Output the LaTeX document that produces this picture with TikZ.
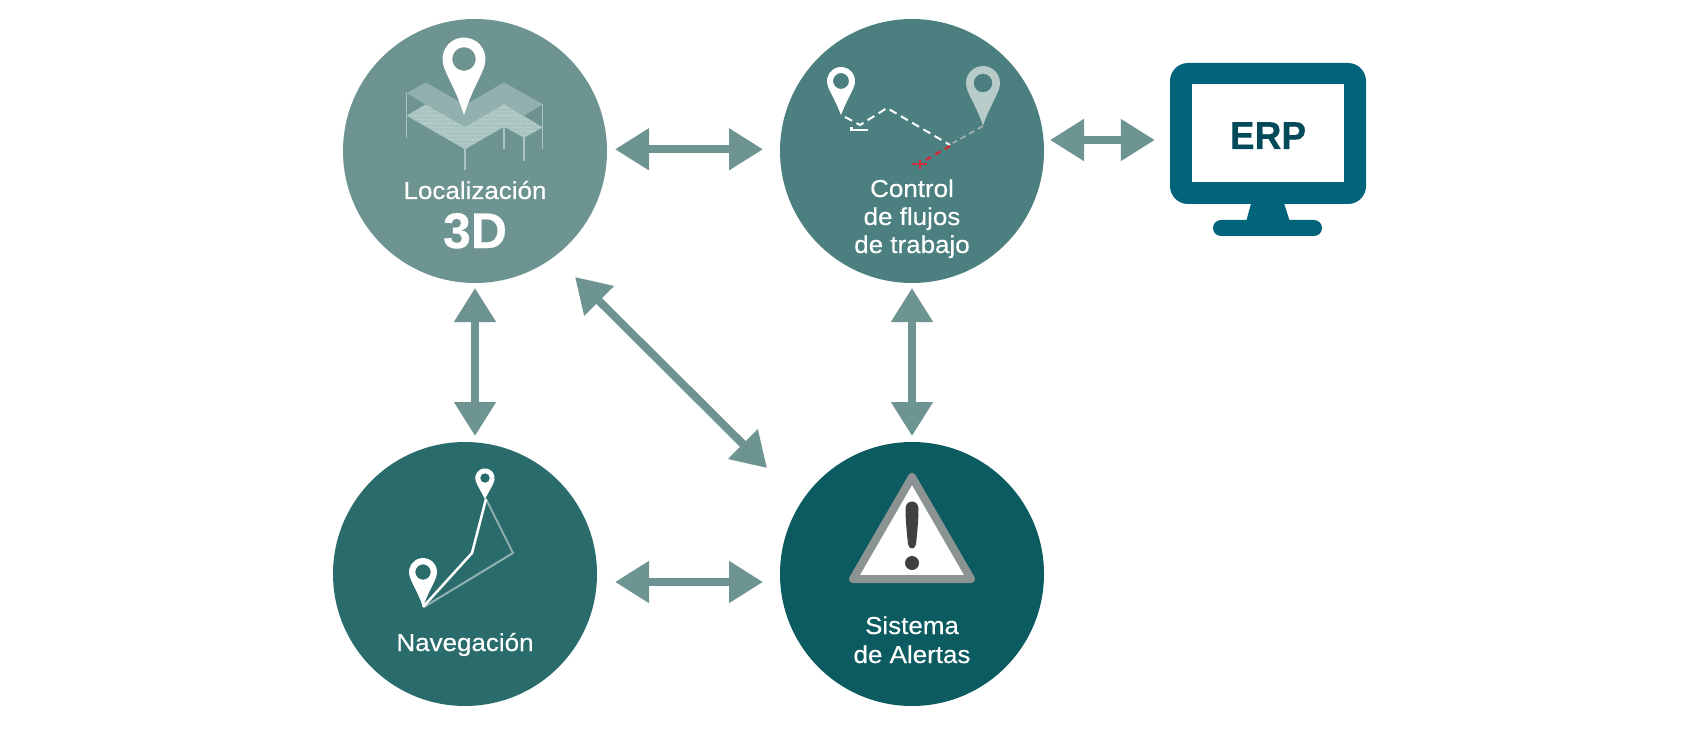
\documentclass[tikz,border=0pt]{standalone}
\usepackage{fontspec}
\setmainfont[FakeStretch=1.06,FakeBold=0.3]{Liberation Sans}
\newfontfamily\erpfont[FakeStretch=0.95,FakeBold=0.3]{Liberation Sans Bold}
\newfontfamily\bigfont[FakeBold=0.5]{Liberation Sans Bold}
\usetikzlibrary{arrows.meta,calc}
\definecolor{cloc}{HTML}{6E9492}
\definecolor{cctrl}{HTML}{4C8080}
\definecolor{cnav}{HTML}{2A6C6C}
\definecolor{calert}{HTML}{0B5B60}
\definecolor{cmon}{HTML}{02647A}
\definecolor{cerp}{HTML}{024A5A}
\definecolor{cpale}{HTML}{B7CCC9}
\definecolor{cplate}{HTML}{92B1AE}
\definecolor{clower}{HTML}{AAC4C1}
\definecolor{cred}{HTML}{C8303C}
\definecolor{ctri}{HTML}{8C9393}
\definecolor{cmark}{HTML}{404040}
\tikzset{
  disc/.style={circle,minimum size=264pt,inner sep=0pt,fill=#1},
  bi/.style={cloc,line width=8pt,{Triangle[length=34pt,width=40pt]}-{Triangle[length=34pt,width=40pt]}},
  lbl/.style={text=white,anchor=base,inner sep=0pt,font=\fontsize{24.5}{29}\selectfont},
  dash1/.style={line width=2pt,dash pattern=on 8pt off 5pt}
}
\newcommand{\pinmark}[6]{%
  \begin{scope}[shift={(#1,#2)},scale=#3]
    \fill[#6,even odd rule] (0,#4) .. controls (-.42,1.3) and (-.88,.7) .. (-.98,.2) arc[start angle=168.5,end angle=371.5,radius=1] .. controls (.88,.7) and (.42,1.3) .. (0,#4) -- cycle (0,0) circle[radius=#5];
  \end{scope}}
\begin{document}
\begin{tikzpicture}[x=1pt,y=-1pt]
\useasboundingbox (0,0) rectangle (1700,746);
\fill[white] (0,0) rectangle (1700,746);
% discs
\node[disc=cloc] (loc) at (475,151) {};
\node[disc=cctrl] (ctrl) at (912,151) {};
\node[disc=cnav] (nav) at (465,574) {};
\node[disc=calert] (alert) at (912,574) {};
% monitor
\fill[cmon] (1252,200) -- (1283,200) -- (1290,222) -- (1246,222) -- cycle;
\fill[cmon,rounded corners=8pt] (1213,220) rectangle (1322,236);
\node[fill=cmon,rounded corners=18pt,minimum width=196pt,minimum height=141pt,inner sep=0pt] (erp) at (1268,133.5) {};
\fill[white] (1192,84) rectangle (1344,182);
\node[anchor=base,inner sep=0pt,text=cerp,font=\fontsize{39}{44}\selectfont\erpfont] (erptxt) at (1268,149) {ERP};
% connectors
\draw[bi] ($(loc)+(140,-1.7)$) -- ($(ctrl)+(-149,-1.7)$);
\draw[bi] ($(ctrl)+(138,-11)$) -- ($(erp.west)+(-15,6.5)$);
\draw[bi] ($(loc)+(0,137)$) -- ($(nav)+(10,-138)$);
\draw[bi] ($(ctrl)+(0,137)$) -- ($(alert)+(0,-138)$);
\draw[bi] ($(nav)+(150,8)$) -- ($(alert)+(-149,8)$);
\draw[bi] ($(loc)+(100,126)$) -- ($(alert)+(-145,-106)$);
% building icon
\begin{scope}[shift={(400,70)},scale=1/3]
  \fill[clower] (20,137) -- (77,103) -- (195,170) -- (312,102) -- (428,172) -- (372,203) -- (312,170) -- (195,238) -- cycle;
  \begin{scope}
    \clip (20,137) -- (77,103) -- (195,170) -- (312,102) -- (428,172) -- (372,203) -- (312,170) -- (195,238) -- cycle;
    \foreach \i in {0,...,50} \foreach \j in {0,...,12}
      \fill[white,opacity=.55] ({15+\i*9+mod(\j,2)*4.5},{100+\j*12}) circle[radius=1.3];
  \end{scope}
  \fill[cplate] (20,70) -- (77,37) -- (195,105) -- (312,37) -- (428,103) -- (372,137) -- (312,102) -- (195,170) -- (77,103) -- cycle;
  \draw[clower,line width=1.4pt] (20,70) -- (20,205) (195,170) -- (195,300) (312,102) -- (312,238) (372,137) -- (372,272) (428,103) -- (428,238);
\end{scope}
\pinmark{464}{59}{21.5}{2.6}{.55}{white}
% control icon
\pinmark{841}{81}{14}{2.43}{.57}{white}
\pinmark{983}{83}{17}{2.5}{.55}{cpale}
\draw[white,dash1] (845,117) -- (860,125) -- (887,108) -- (950,145);
\draw[white,line width=2pt] (851,130) -- (868,130);
\draw[white,line width=3pt] (851,127) -- (851,131);
\draw[ctri!70!white,line width=1.5pt,dash pattern=on 6pt off 4pt] (983,126) -- (953,143);
\draw[cred,line width=2.5pt,dash pattern=on 6pt off 5pt] (950,146) -- (924,161);
\draw[cred,line width=2.5pt] (912,164) -- (927,164) (920,160) -- (920,169);
% nav icon
\draw[cplate,line width=2pt,line join=miter] (424,607) -- (513,553) -- (486,499);
\draw[white,line width=2.5pt] (423,607) -- (472,553) -- (486,499);
\pinmark{485}{478}{9.7}{2.2}{.5}{white}
\pinmark{423}{572}{14}{2.5}{.55}{white}
% alert icon
\draw[ctri,fill=white,line width=8pt,line join=round] (912,477) -- (853,579) -- (971,579) -- cycle;
\fill[cmark] (905.5,509) .. controls (905.5,499) and (918.5,499) .. (918.5,509) .. controls (918.5,520) and (917,535) .. (916,544) .. controls (915.5,550) and (908.5,550) .. (908,544) .. controls (907,535) and (905.5,520) .. (905.5,509) -- cycle;
\fill[cmark] (912,563) circle[radius=7];
% texts
\node[lbl] (t1) at (475,199) {Localización};
\node[text=white,anchor=base,inner sep=0pt,font=\fontsize{50}{55}\selectfont\bigfont] (t2) at (475,248) {3D};
\node[lbl] (t3) at (912,197) {Control};
\node[lbl] (t4) at (912,225) {de flujos};
\node[lbl] (t5) at (912,253) {de trabajo};
\node[lbl] (t6) at (465,651) {Navegación};
\node[lbl] (t7) at (912,634) {Sistema};
\node[lbl] (t8) at (912,663) {de Alertas};
\end{tikzpicture}
\end{document}
